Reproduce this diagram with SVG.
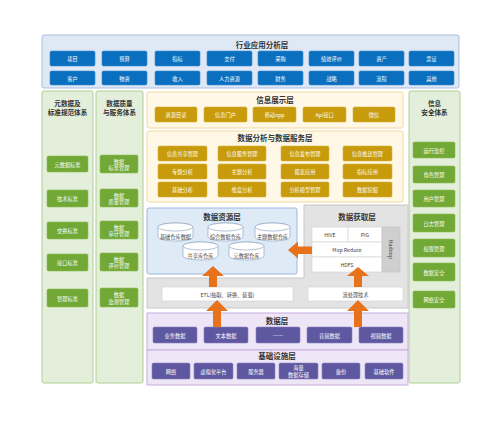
<svg xmlns="http://www.w3.org/2000/svg" width="500" height="430" viewBox="0 0 500 430">
<defs>
<style>
text{font-family:"Noto Sans CJK SC","Noto Sans",sans-serif;text-anchor:middle;dominant-baseline:central}
.t{font-size:7.5px;font-weight:bold;fill:#333}
.ct{font-size:6.6px;font-weight:bold;fill:#333}
.l{font-size:5.2px;fill:#fff}
.d{font-size:5.2px;fill:#444}
.blue{fill:#0B6FBF;stroke:#3D8AD0;stroke-width:0.6}
.gold{fill:#C79B0B;stroke:#D9B440;stroke-width:0.6}
.green{fill:#72A936;stroke:#8DBE57;stroke-width:0.6}
.purple{fill:#5E58A0;stroke:#8A84C4;stroke-width:0.6}
.wbox{fill:#fff;stroke:#D0D0D0;stroke-width:0.6}
.cyl{fill:#fff;stroke:#8FA6C4;stroke-width:0.7}
.arr{fill:#E8711C}
</style>
</defs>
<rect width="500" height="430" fill="#fff"/>

<g id="industry-layer">
<rect x="42" y="35" width="417" height="53" rx="2" fill="#DFE9F5" stroke="#A9BDE0" stroke-width="1"/>
<text class="t" x="262" y="44">行业应用分析层</text>
<g>
<rect class="blue" x="50" y="51" width="45" height="15" rx="1.5"/><text class="l" x="72.5" y="58.5">项目</text>
<rect class="blue" x="102" y="51" width="45" height="15" rx="1.5"/><text class="l" x="124.5" y="58.5">预算</text>
<rect class="blue" x="155" y="51" width="45" height="15" rx="1.5"/><text class="l" x="177.5" y="58.5">指标</text>
<rect class="blue" x="207" y="51" width="45" height="15" rx="1.5"/><text class="l" x="229.5" y="58.5">支付</text>
<rect class="blue" x="258" y="51" width="45" height="15" rx="1.5"/><text class="l" x="280.5" y="58.5">采购</text>
<rect class="blue" x="309" y="51" width="45" height="15" rx="1.5"/><text class="l" x="331.5" y="58.5">绩效评价</text>
<rect class="blue" x="359" y="51" width="45" height="15" rx="1.5"/><text class="l" x="381.5" y="58.5">资产</text>
<rect class="blue" x="409" y="51" width="45" height="15" rx="1.5"/><text class="l" x="431.5" y="58.5">票证</text>
<rect class="blue" x="50" y="71" width="45" height="14" rx="1.5"/><text class="l" x="72.5" y="78">客户</text>
<rect class="blue" x="102" y="71" width="45" height="14" rx="1.5"/><text class="l" x="124.5" y="78">物资</text>
<rect class="blue" x="155" y="71" width="45" height="14" rx="1.5"/><text class="l" x="177.5" y="78">收入</text>
<rect class="blue" x="207" y="71" width="45" height="14" rx="1.5"/><text class="l" x="229.5" y="78">人力资源</text>
<rect class="blue" x="258" y="71" width="45" height="14" rx="1.5"/><text class="l" x="280.5" y="78">财务</text>
<rect class="blue" x="309" y="71" width="45" height="14" rx="1.5"/><text class="l" x="331.5" y="78">战略</text>
<rect class="blue" x="359" y="71" width="45" height="14" rx="1.5"/><text class="l" x="381.5" y="78">流程</text>
<rect class="blue" x="409" y="71" width="45" height="14" rx="1.5"/><text class="l" x="431.5" y="78">其他</text>
</g>
</g>

<g id="metadata-system">
<rect x="42" y="91" width="51" height="292" rx="2" fill="#E3EFDB" stroke="#AECF94" stroke-width="1"/>
<text class="ct" x="67.5" y="103">元数据及</text>
<text class="ct" x="67.5" y="112">标准规范体系</text>
<rect class="green" x="47" y="156" width="41" height="16" rx="1.5"/><text class="l" x="67.5" y="164">元数据标准</text>
<rect class="green" x="47" y="190" width="41" height="17" rx="1.5"/><text class="l" x="67.5" y="198.5">技术标准</text>
<rect class="green" x="47" y="222" width="41" height="17" rx="1.5"/><text class="l" x="67.5" y="230.5">交换标准</text>
<rect class="green" x="47" y="254" width="41" height="17" rx="1.5"/><text class="l" x="67.5" y="262.5">接口标准</text>
<rect class="green" x="47" y="289" width="41" height="18" rx="1.5"/><text class="l" x="67.5" y="298">管理标准</text>
</g>

<g id="quality-system">
<rect x="96" y="91" width="47" height="292" rx="2" fill="#E3EFDB" stroke="#AECF94" stroke-width="1"/>
<text class="ct" x="119.5" y="103">数据质量</text>
<text class="ct" x="119.5" y="112">与服务体系</text>
<rect class="green" x="100" y="155" width="38" height="18" rx="1.5"/><text class="l" x="119" y="161">数据</text><text class="l" x="119" y="167.5">标准管理</text>
<rect class="green" x="100" y="189" width="38" height="18" rx="1.5"/><text class="l" x="119" y="195">数据</text><text class="l" x="119" y="201.5">质量管理</text>
<rect class="green" x="100" y="221" width="38" height="18" rx="1.5"/><text class="l" x="119" y="227">数据</text><text class="l" x="119" y="233.5">审计管理</text>
<rect class="green" x="100" y="253" width="38" height="18" rx="1.5"/><text class="l" x="119" y="259">数据</text><text class="l" x="119" y="265.5">评价管理</text>
<rect class="green" x="100" y="288" width="38" height="19" rx="1.5"/><text class="l" x="119" y="294.5">数据</text><text class="l" x="119" y="301">监测管理</text>
</g>

<g id="security-system">
<rect x="409" y="91" width="51" height="292" rx="2" fill="#E3EFDB" stroke="#AECF94" stroke-width="1"/>
<text class="ct" x="434.5" y="103">信息</text>
<text class="ct" x="434.5" y="112">安全体系</text>
<rect class="green" x="413" y="142" width="42" height="16" rx="1.5"/><text class="l" x="434" y="150">运行监控</text>
<rect class="green" x="413" y="166" width="42" height="17" rx="1.5"/><text class="l" x="434" y="174.5">角色管理</text>
<rect class="green" x="413" y="190" width="42" height="17" rx="1.5"/><text class="l" x="434" y="198.5">用户管理</text>
<rect class="green" x="413" y="214" width="42" height="18" rx="1.5"/><text class="l" x="434" y="223">日志管理</text>
<rect class="green" x="413" y="239" width="42" height="18" rx="1.5"/><text class="l" x="434" y="248">权限管理</text>
<rect class="green" x="413" y="263" width="42" height="18" rx="1.5"/><text class="l" x="434" y="272">数据安全</text>
<rect class="green" x="413" y="291" width="42" height="17" rx="1.5"/><text class="l" x="434" y="299.5">网络安全</text>
</g>

<g id="display-layer">
<rect x="147" y="92" width="256" height="36" rx="2" fill="#FFF8E6" stroke="#F0D9A2" stroke-width="1"/>
<text class="t" x="275" y="99.5">信息展示层</text>
<rect class="gold" x="155" y="107" width="42" height="15" rx="1.5"/><text class="l" x="176" y="114.5">资源目录</text>
<rect class="gold" x="204" y="107" width="43" height="15" rx="1.5"/><text class="l" x="225.5" y="114.5">信息门户</text>
<rect class="gold" x="253" y="107" width="43" height="15" rx="1.5"/><text class="l" x="274.5" y="114.5">移动app</text>
<rect class="gold" x="303" y="107" width="43" height="15" rx="1.5"/><text class="l" x="324.5" y="114.5">Api接口</text>
<rect class="gold" x="353" y="107" width="42" height="15" rx="1.5"/><text class="l" x="374" y="114.5">微信</text>
</g>

<g id="analysis-layer">
<rect x="147" y="131" width="256" height="71" rx="2" fill="#FFF8E6" stroke="#F0D9A2" stroke-width="1"/>
<text class="t" x="275" y="137.5">数据分析与数据服务层</text>
<rect class="gold" x="158" y="146" width="49" height="15" rx="1.5"/><text class="l" x="182.5" y="153.5">信息共享管理</text>
<rect class="gold" x="218" y="146" width="48" height="15" rx="1.5"/><text class="l" x="242" y="153.5">信息服务管理</text>
<rect class="gold" x="281" y="146" width="48" height="15" rx="1.5"/><text class="l" x="305" y="153.5">信息发布管理</text>
<rect class="gold" x="343" y="146" width="49" height="15" rx="1.5"/><text class="l" x="367.5" y="153.5">信息推送管理</text>
<rect class="gold" x="158" y="164" width="49" height="15" rx="1.5"/><text class="l" x="182.5" y="171.5">专题分析</text>
<rect class="gold" x="218" y="164" width="48" height="15" rx="1.5"/><text class="l" x="242" y="171.5">主题分析</text>
<rect class="gold" x="281" y="164" width="48" height="15" rx="1.5"/><text class="l" x="305" y="171.5">报表应用</text>
<rect class="gold" x="343" y="164" width="49" height="15" rx="1.5"/><text class="l" x="367.5" y="171.5">指标应用</text>
<rect class="gold" x="158" y="182" width="49" height="15" rx="1.5"/><text class="l" x="182.5" y="189.5">基础分析</text>
<rect class="gold" x="218" y="182" width="48" height="15" rx="1.5"/><text class="l" x="242" y="189.5">维度分析</text>
<rect class="gold" x="281" y="182" width="48" height="15" rx="1.5"/><text class="l" x="305" y="189.5">分析模型管理</text>
<rect class="gold" x="343" y="182" width="49" height="15" rx="1.5"/><text class="l" x="367.5" y="189.5">数据挖掘</text>
</g>

<g id="acquisition-etl-base">
<path d="M147,278 H304 V205 H408 V308 H147 Z" fill="#E3E3E3" stroke="#C8C8C8" stroke-width="1"/>
</g>

<g id="resource-layer">
<rect x="147" y="208" width="150" height="66" rx="2" fill="#DEEAF6" stroke="#9DB8DE" stroke-width="1"/>
<text class="t" x="222" y="216">数据资源层</text>
<g>
<path class="cyl" d="M158,227 a17.5,4 0 0 1 35,0 v10 a17.5,4 0 0 1 -35,0 z"/><ellipse class="cyl" cx="175.5" cy="227" rx="17.5" ry="4"/><text class="d" x="175.5" y="236">基础仓库数据</text>
<path class="cyl" d="M208,227 a17.5,4 0 0 1 35,0 v10 a17.5,4 0 0 1 -35,0 z"/><ellipse class="cyl" cx="225.5" cy="227" rx="17.5" ry="4"/><text class="d" x="225.5" y="236">综合数据仓库</text>
<path class="cyl" d="M255,227 a17.5,4 0 0 1 35,0 v10 a17.5,4 0 0 1 -35,0 z"/><ellipse class="cyl" cx="272.5" cy="227" rx="17.5" ry="4"/><text class="d" x="272.5" y="236">主题数据仓库</text>
<path class="cyl" d="M183,246 a17.5,4 0 0 1 35,0 v10 a17.5,4 0 0 1 -35,0 z"/><ellipse class="cyl" cx="200.5" cy="246" rx="17.5" ry="4"/><text class="d" x="200.5" y="255">共享库仓库</text>
<path class="cyl" d="M229,246 a17.5,4 0 0 1 35,0 v10 a17.5,4 0 0 1 -35,0 z"/><ellipse class="cyl" cx="246.5" cy="246" rx="17.5" ry="4"/><text class="d" x="246.5" y="255">元数据仓库</text>
</g>
</g>

<g id="acquisition-layer">
<text class="t" x="357" y="216">数据获取层</text>
<rect class="wbox" x="312" y="227" width="36" height="15"/><text class="d" x="330" y="234.5">HIVE</text>
<rect class="wbox" x="348" y="227" width="34" height="15"/><text class="d" x="365" y="234.5">PIG</text>
<rect class="wbox" x="312" y="242" width="70" height="15"/><text class="d" x="347" y="249.5">Map Reduce</text>
<rect class="wbox" x="312" y="257" width="70" height="15"/><text class="d" x="347" y="264.5">HDFS</text>
<rect x="382" y="227" width="18" height="45" fill="#CFCFCF" stroke="#C4C4C4" stroke-width="0.6"/>
<text class="d" x="391" y="249.5" transform="rotate(90 391 249.5)">Hadoop</text>
</g>

<g id="etl-layer">
<rect class="wbox" x="162" y="287" width="131" height="14" stroke="none"/><text class="d" x="227.5" y="294">ETL(抽取、转换、装载)</text>
<rect class="wbox" x="308" y="287" width="95" height="14" stroke="none"/><text class="d" x="355.5" y="294">流处理技术</text>
</g>

<g id="data-layer">
<rect x="147" y="313" width="261" height="37" fill="#EEE6F6" stroke="#C7ACE0" stroke-width="1"/>
<text class="t" x="277" y="320.5">数据层</text>
<rect class="purple" x="153" y="327" width="44" height="16" rx="1.5"/><text class="l" x="175" y="335">业务数据</text>
<rect class="purple" x="204" y="327" width="44" height="16" rx="1.5"/><text class="l" x="226" y="335">文本数据</text>
<rect class="purple" x="256" y="327" width="44" height="16" rx="1.5"/><text class="l" x="278" y="335" fill="#9C98C8">……</text>
<rect class="purple" x="307" y="327" width="45" height="16" rx="1.5"/><text class="l" x="329.5" y="335">音频数据</text>
<rect class="purple" x="359" y="327" width="44" height="16" rx="1.5"/><text class="l" x="381" y="335">视频数据</text>
</g>

<g id="infrastructure-layer">
<rect x="147" y="350" width="261" height="35" fill="#EEE6F6" stroke="#C7ACE0" stroke-width="1"/>
<text class="t" x="277" y="355.5">基础设施层</text>
<rect class="purple" x="152" y="363" width="38" height="16" rx="1.5"/><text class="l" x="171" y="371">网络</text>
<rect class="purple" x="194" y="363" width="39" height="16" rx="1.5"/><text class="l" x="213.5" y="371">虚拟化平台</text>
<rect class="purple" x="237" y="363" width="38" height="16" rx="1.5"/><text class="l" x="256" y="371">服务器</text>
<rect class="purple" x="279" y="363" width="39" height="16" rx="1.5"/><text class="l" x="298.5" y="367.5">海量</text><text class="l" x="298.5" y="374.5">数据存储</text>
<rect class="purple" x="322" y="363" width="38" height="16" rx="1.5"/><text class="l" x="341" y="371">备份</text>
<rect class="purple" x="365" y="363" width="38" height="16" rx="1.5"/><text class="l" x="384" y="371">基础软件</text>
</g>

<g id="connectors">
<path class="arr" d="M213,266 L224,276 L217,276 L217,287 L209,287 L209,276 L202,276 Z"/>
<path class="arr" d="M358,267 L369,276 L362,276 L362,287 L354,287 L354,276 L347,276 Z"/>
<path class="arr" d="M217,300 L228,311 L221,311 L221,327 L213,327 L213,311 L206,311 Z"/>
<path class="arr" d="M358,300 L369,311 L362,311 L362,327 L354,327 L354,311 L347,311 Z"/>
<path class="arr" d="M288,250 L298,241.5 L298,246.5 L312,246.5 L312,254 L298,254 L298,258.5 Z"/>
</g>
</svg>
